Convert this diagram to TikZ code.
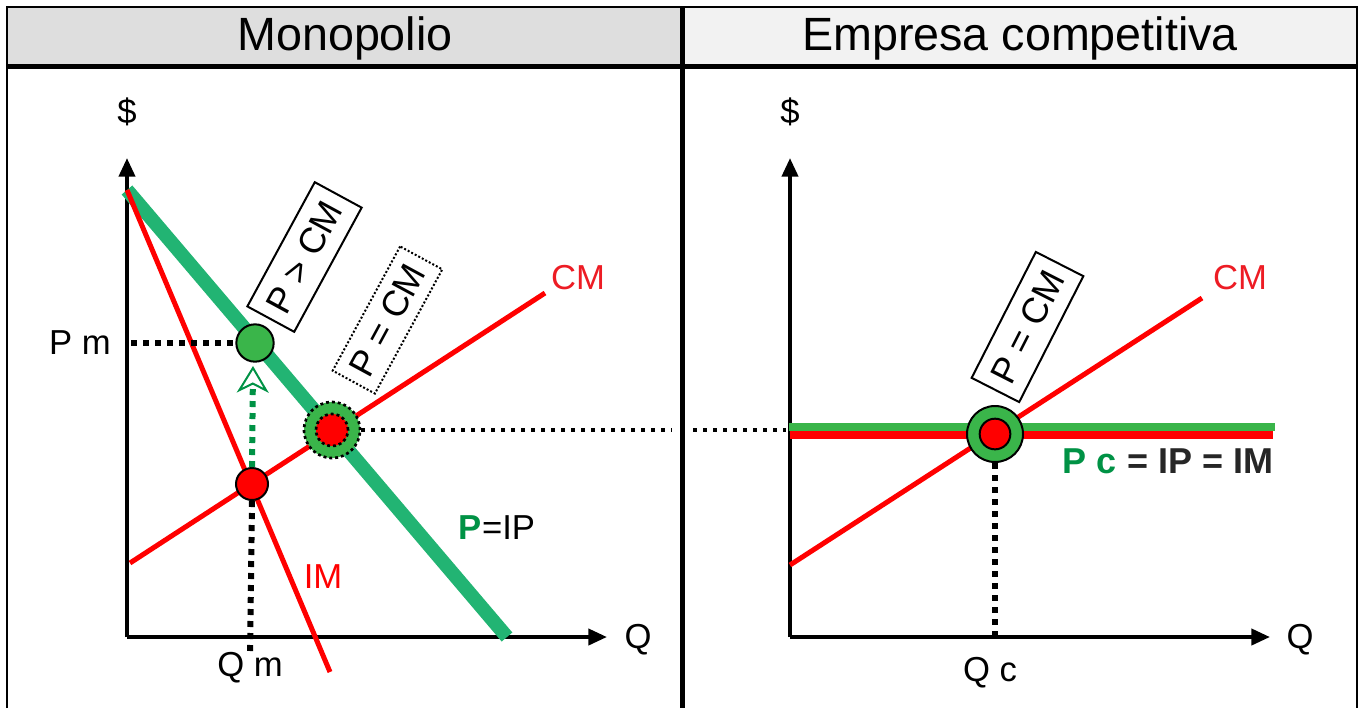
\documentclass[tikz,border=0pt]{standalone}
\usepackage{fontspec}
\setmainfont{Liberation Sans}
\usetikzlibrary{arrows.meta}
\definecolor{hdrL}{HTML}{DEDEDE}
\definecolor{hdrR}{HTML}{F2F2F2}
\definecolor{pline}{HTML}{22B473}
\definecolor{dotgreen}{HTML}{3AB54A}
\definecolor{dkgreen}{HTML}{009245}
\definecolor{cmred}{HTML}{ED1C24}
\definecolor{dkgray}{HTML}{262626}
\begin{document}
\begin{tikzpicture}[x=0.75pt,y=-0.75pt,
  lbl/.style={font=\fontsize{26}{30}\selectfont, inner sep=0pt},
  hdr/.style={font=\fontsize{35}{40}\selectfont, inner sep=0pt},
  rbox/.style={draw, line width=1.5pt, font=\fontsize{27}{30}\selectfont, inner sep=0pt, minimum width=106pt, minimum height=40pt, fill=white},
  axis/.style={line width=3pt, -{Triangle[length=14pt,width=12pt]}},
  redline/.style={line width=3.75pt, red},
  bigdots/.style={line width=4.5pt, dash pattern=on 4.5pt off 4.5pt},
  thindots/.style={line width=3pt, dash pattern=on 3pt off 4.5pt},
  dotnode/.style={circle, draw=black, line width=1.5pt, inner sep=0pt}
]
\useasboundingbox (0,0) rectangle (1362,708);
% headers
\fill[hdrL] (7,7) rectangle (682,66);
\fill[hdrR] (682,7) rectangle (1357,66);
\draw[line width=1.5pt] (7,708) -- (7,7) -- (1357,7) -- (1357,708);
\draw[line width=3.75pt] (7,66) -- (1357,66);
\draw[line width=3.75pt] (682,7) -- (682,708);
\node[hdr] (h1) at (345,38) {Monopolio};
\node[hdr] (h2) at (1020,38) {Empresa competitiva};

% ---------- left panel ----------
\coordinate (O1) at (127,637);
\coordinate (Y1) at (127,158);
\coordinate (X1) at (607,637);
\draw[axis] (O1) -- (Y1);
\draw[axis] (O1) -- (X1);
\node[lbl] (dol1) at (127,112) {\$};
\node[lbl] (q1) at (638,640) {Q};
\node[lbl] (pm) at (80,343) {P m};
\node[lbl] (qm) at (250,668) {Q m};

\coordinate (top) at (127,190);
\coordinate (pend) at (507,637);
\coordinate (imend) at (330,672);
\coordinate (cm1a) at (130,563);
\coordinate (cm1b) at (545,293);
\draw[line width=10.5pt, pline] (top) -- (pend);
\draw[redline] (top) -- (imend);
\draw[redline] (cm1a) -- (cm1b);

\node[lbl, text=cmred] (cmlab1) at (578,278) {CM};
\node[lbl, text=red] (imlab) at (323,577) {IM};
\node[lbl] (piplab) at (497,528) {\textcolor{dkgreen}{\textbf{P}}=IP};

% points
\node[dotnode, fill=red, minimum size=24pt] (qmpt) at (252,484) {};
\node[dotnode, fill=dotgreen, minimum size=28pt] (pmpt) at (255,343) {};
\node[circle, fill=dotgreen, draw=black, line width=2pt, dash pattern=on 2.2pt off 2.2pt, minimum size=42pt, inner sep=0pt] (eqL) at (332,430) {};
\node[circle, fill=red, draw=black, line width=2pt, dash pattern=on 2.2pt off 2.2pt, minimum size=24pt, inner sep=0pt] (eqLin) at (332,430) {};

\coordinate (pmax) at (131,343);
\draw[bigdots] (pmax) -- (pmpt.west);
\coordinate (qmbot) at (250,656);
\draw[bigdots] (qmpt.south) -- (qmbot);
\coordinate (arrtip) at (253,366);
\draw[dkgreen, line width=4.5pt, dash pattern=on 4.5pt off 4.5pt,
  -{Stealth[open, length=20pt, width=24pt, inset=6pt, line width=1.5pt]}] (qmpt.north) -- (arrtip);

\coordinate (dl1) at (672,430);
\coordinate (dl2) at (693,430);
\coordinate (dl3) at (786,430);
\draw[thindots] (eqL.east) -- (dl1);
\draw[thindots] (dl2) -- (dl3);

\node[rbox, rotate=61.5] (pgt) at (304.5,257) {P > CM};
\node[rbox, rotate=61.5, minimum height=36pt, draw=black, line width=1.5pt, dash pattern=on 1.5pt off 1.5pt] (peq1) at (387.5,320) {P = CM};

% ---------- right panel ----------
\coordinate (O2) at (790,637);
\coordinate (Y2) at (790,158);
\coordinate (X2) at (1270,637);
\draw[axis] (O2) -- (Y2);
\draw[axis] (O2) -- (X2);
\node[lbl] (dol2) at (790,112) {\$};
\node[lbl] (q2) at (1300,640) {Q};
\node[lbl] (qc) at (990,673) {Q c};

\coordinate (gl1) at (789,427);
\coordinate (gl2) at (1275,427);
\coordinate (rl1) at (790,435);
\coordinate (rl2) at (1273,435);
\draw[line width=6pt, dotgreen] (gl1) -- (gl2);
\draw[line width=6pt, red] (rl1) -- (rl2);
\coordinate (cm2a) at (790,565);
\coordinate (cm2b) at (1202,298);
\draw[redline] (cm2a) -- (cm2b);
\node[lbl, text=cmred] (cmlab2) at (1240,278) {CM};

\node[dotnode, fill=dotgreen, minimum size=42pt] (eqR) at (995,434) {};
\node[dotnode, fill=red, minimum size=23pt] (eqRin) at (995,434) {};
\coordinate (qcax) at (995,637);
\draw[bigdots] (eqR.south) -- (qcax);

\node[lbl, font=\fontsize{27}{30}\selectfont\bfseries, text=dkgray] (pclab) at (1168,461) {\textcolor{dkgreen}{P c} = IP = IM};
\node[rbox, rotate=63] (peq2) at (1027.5,327) {P = CM};
\end{tikzpicture}
\end{document}
